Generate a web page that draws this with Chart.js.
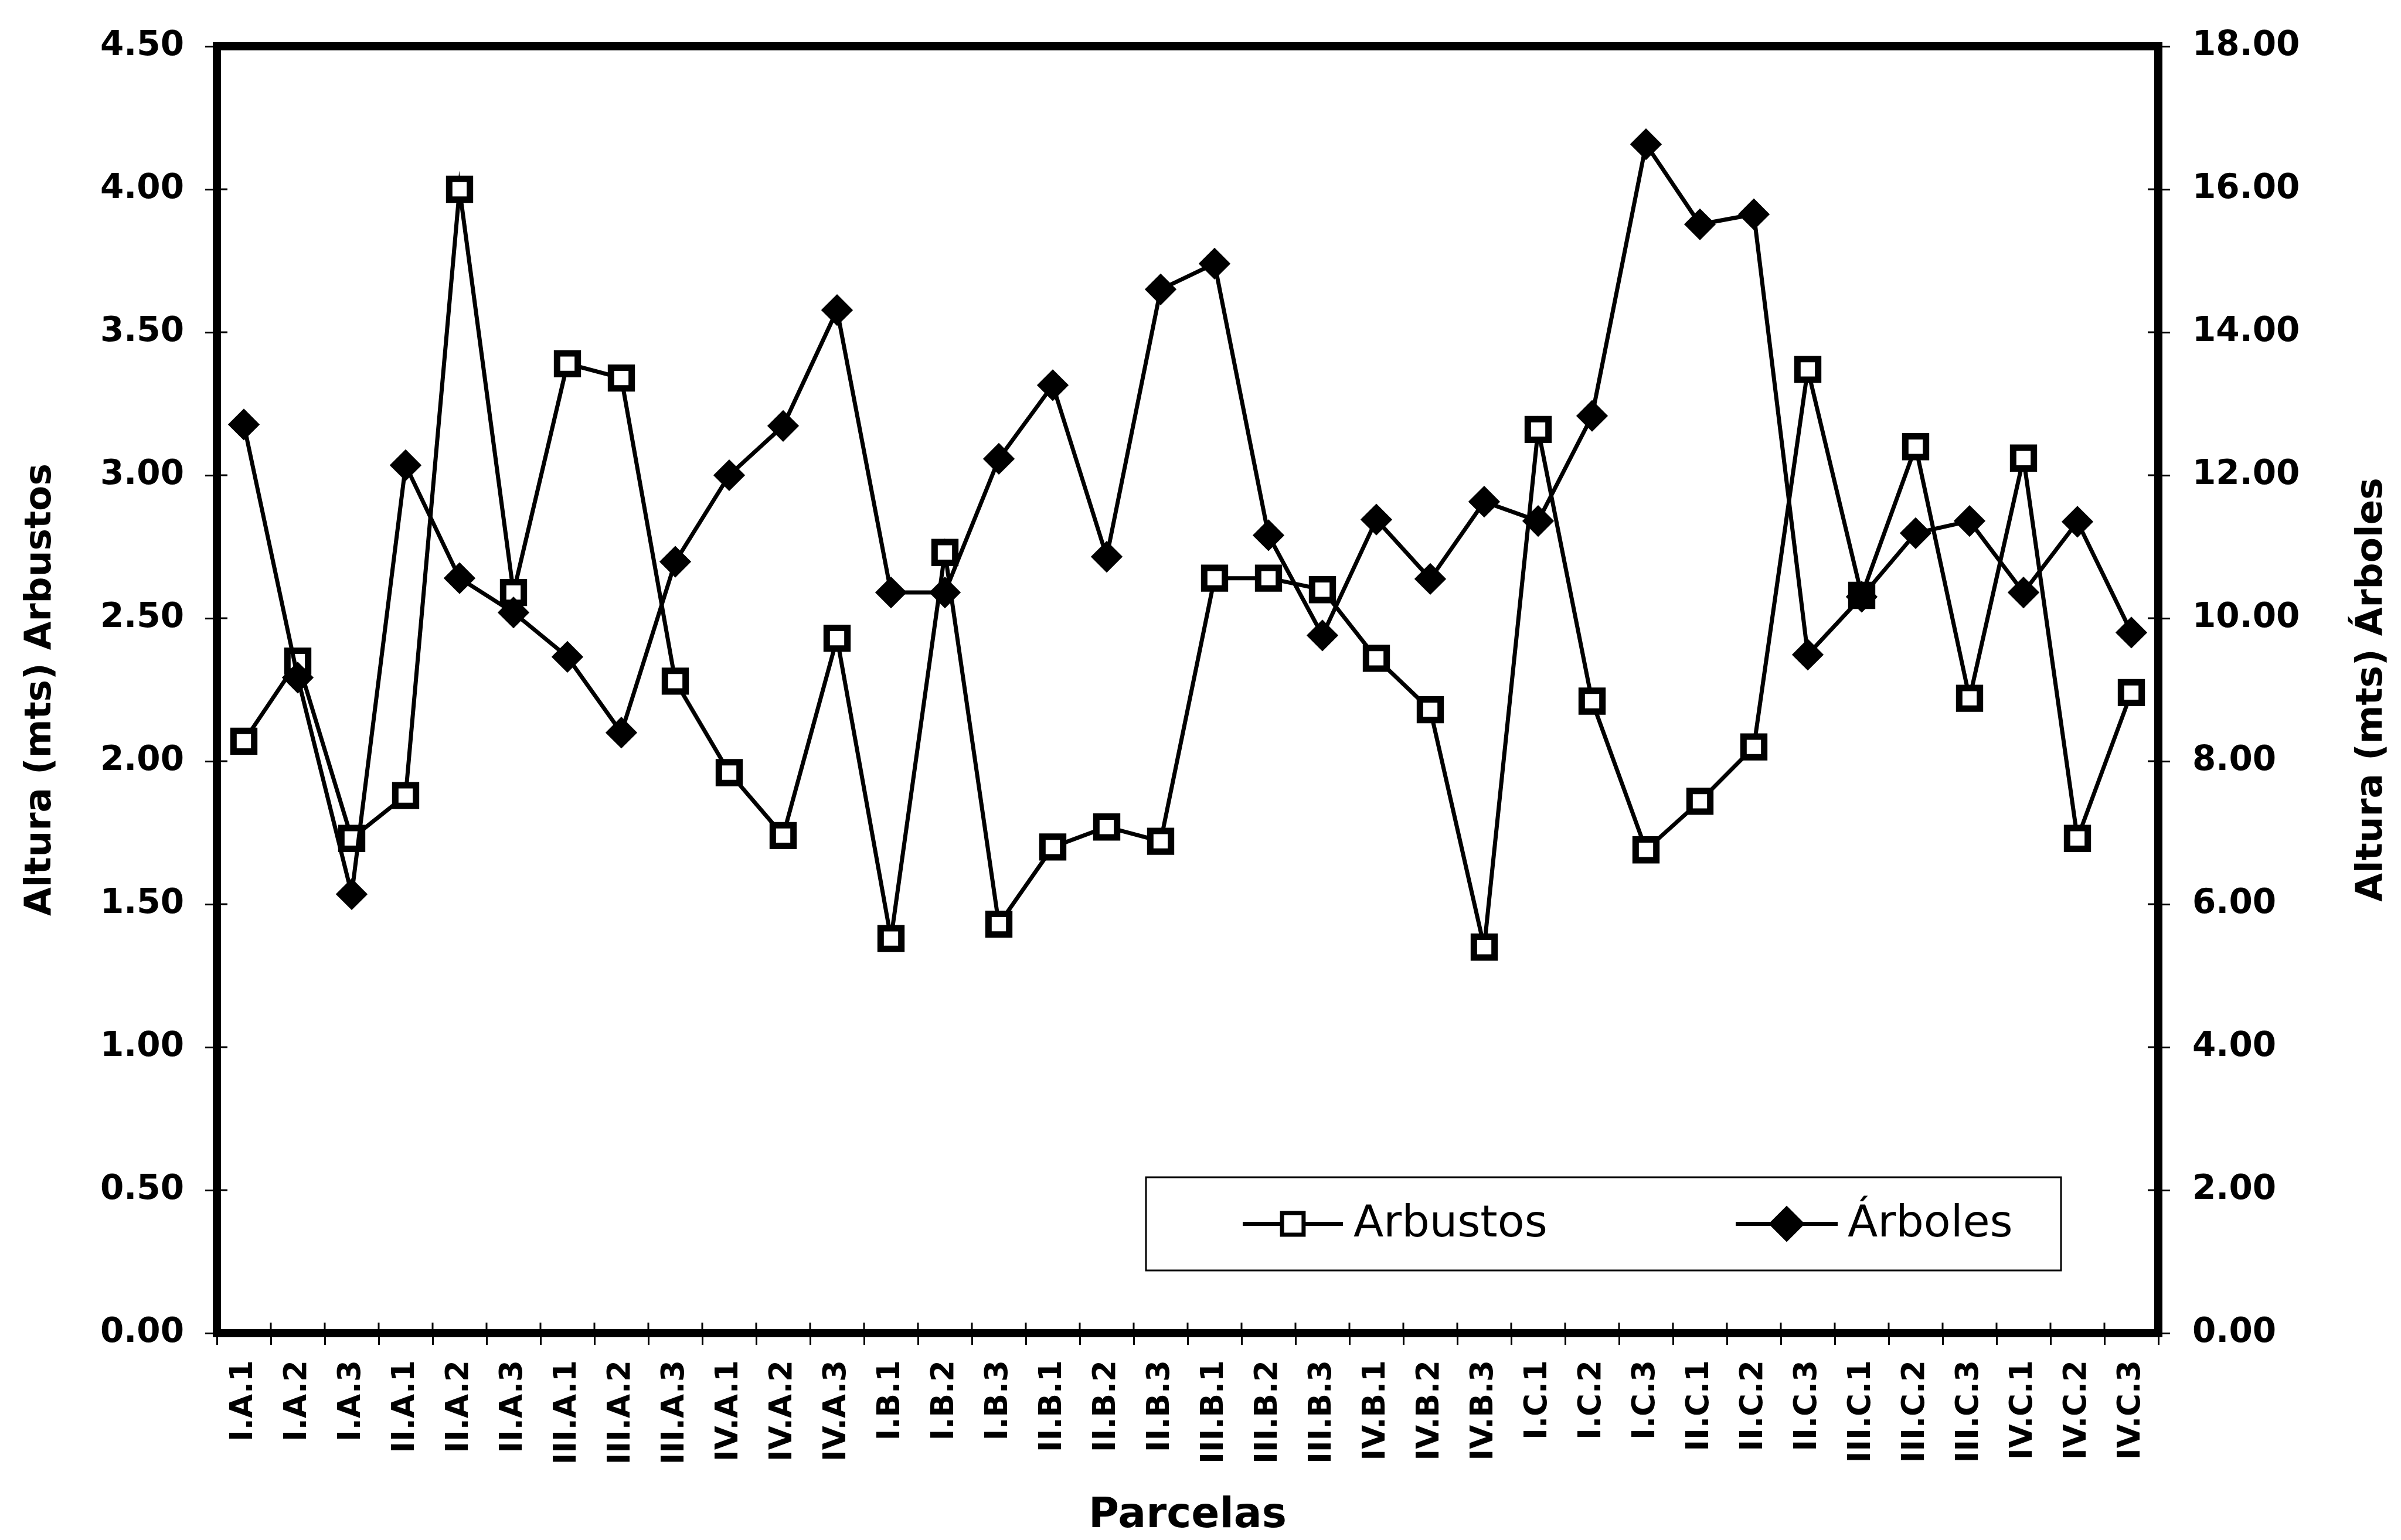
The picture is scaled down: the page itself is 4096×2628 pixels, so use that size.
<!DOCTYPE html>
<html lang="es">
<head>
<meta charset="utf-8">
<title>Altura de arbustos y árboles por parcela</title>
<script src="https://cdn.jsdelivr.net/npm/chart.js@4.4.1/dist/chart.umd.min.js"></script>
<style>
html,body{margin:0;padding:0;background:#fff;}
#wrap{width:4096px;height:2628px;}
</style>
</head>
<body>
<div id="wrap"><canvas id="ch" width="4096" height="2628"></canvas></div>
<script>
/* ── datos ── */
const parcelas=[
    'I.A.1','I.A.2','I.A.3','II.A.1','II.A.2','II.A.3','III.A.1','III.A.2','III.A.3','IV.A.1','IV.A.2','IV.A.3',
    'I.B.1','I.B.2','I.B.3','II.B.1','II.B.2','II.B.3','III.B.1','III.B.2','III.B.3','IV.B.1','IV.B.2','IV.B.3',
    'I.C.1','I.C.2','I.C.3','II.C.1','II.C.2','II.C.3','III.C.1','III.C.2','III.C.3','IV.C.1','IV.C.2','IV.C.3'
];
// altura media (m), eje izquierdo
const arbustos=[
    2.07,2.35,1.73, 1.88,4.00,2.59, 3.39,3.34,2.28, 1.96,1.74,2.43,
    1.38,2.73,1.43, 1.70,1.77,1.72, 2.64,2.64,2.60, 2.36,2.18,1.35,
    3.16,2.21,1.69, 1.86,2.05,3.37, 2.58,3.10,2.22, 3.06,1.73,2.24
];
// altura media (m), eje derecho
const arboles=[
    12.71,9.17,6.14, 12.14,10.56,10.08, 9.46,8.40,10.79, 12.00,12.69,14.31,
    10.36,10.36,12.23, 13.26,10.86,14.60, 14.96,11.16,9.76, 11.38,10.55,11.63,
    11.36,12.83,16.63, 15.51,15.65,9.49, 10.30,11.19,11.36, 10.36,11.35,9.80
];
const leftAxis={min:0,max:4.5,step:0.5};
const rightAxis={min:0,max:18,step:2};
const titles={left:'Altura (mts) Arbustos',right:'Altura (mts) Árboles',bottom:'Parcelas'};

const FONT='"DejaVu Sans", "Liberation Sans", sans-serif';
const W=4096, H=2628;
const AREA={left:370,right:3682,top:79,bottom:2275};

/* marco grueso + marcas de eje hacia adentro */
const framePlugin={
    id:'frame',
    afterDatasetsDraw(chart){
        const {ctx,chartArea:a,scales}=chart;
        ctx.save();
        ctx.strokeStyle='#000';
        ctx.lineWidth=3;
        ctx.beginPath();
        scales.y.ticks.forEach((t,i)=>{const y=scales.y.getPixelForTick(i);ctx.moveTo(a.left,y);ctx.lineTo(a.left+18,y);});
        scales.y1.ticks.forEach((t,i)=>{const y=scales.y1.getPixelForTick(i);ctx.moveTo(a.right,y);ctx.lineTo(a.right-18,y);});
        for (let i=0;i<=parcelas.length;i++){
            const x=scales.x.getPixelForValue(i-0.5);
            ctx.moveTo(x,a.bottom);ctx.lineTo(x,a.bottom-18);
        }
        ctx.stroke();
        ctx.lineWidth=14;
        ctx.strokeRect(a.left,a.top,a.right-a.left,a.bottom-a.top);
        ctx.restore();
    }
};

/* títulos de ejes (el derecho también se lee de abajo hacia arriba) */
const titlePlugin={
    id:'axisTitles',
    afterDraw(chart){
        const {ctx,chartArea:a}=chart;
        const cy=(a.top+a.bottom)/2, cx=(a.left+a.right)/2;
        ctx.save();
        ctx.fillStyle='#000';
        ctx.textAlign='center';
        ctx.textBaseline='middle';
        ctx.font='bold 63px '+FONT;
        [[70,titles.left],[4047,titles.right]].forEach(([x,txt])=>{
            ctx.save();
            ctx.translate(x,cy);
            ctx.rotate(-Math.PI/2);
            ctx.fillText(txt,0,0);
            ctx.restore();
        });
        ctx.font='bold 71px '+FONT;
        ctx.fillText(titles.bottom,cx,2588);
        ctx.restore();
    }
};

/* leyenda en recuadro, abajo a la derecha */
const legendPlugin={
    id:'boxLegend',
    afterDatasetsDraw(chart){
        const {ctx}=chart;
        const box={x:1955,y:2009,w:1561,h:159};
        const cy=box.y+box.h/2;
        ctx.save();
        ctx.fillStyle='#fff';
        ctx.fillRect(box.x,box.y,box.w,box.h);
        ctx.strokeStyle='#000';
        ctx.lineWidth=3;
        ctx.strokeRect(box.x,box.y,box.w,box.h);

        const items=[
            {x0:2120,x1:2291,tx:2309,text:chart.data.datasets[0].label,style:'rect',r:26,bw:11,fill:'#fff'},
            {x0:2961,x1:3135,tx:3152,text:chart.data.datasets[1].label,style:'rectRot',r:26,bw:3,fill:'#000'}
        ];
        items.forEach(it=>{
            ctx.lineWidth=7;
            ctx.strokeStyle='#000';
            ctx.beginPath();ctx.moveTo(it.x0,cy);ctx.lineTo(it.x1,cy);ctx.stroke();
            ctx.fillStyle=it.fill;
            Chart.helpers.drawPoint(ctx,{pointStyle:it.style,radius:it.r,borderWidth:it.bw,rotation:0},(it.x0+it.x1)/2,cy);
            ctx.fillStyle='#000';
            ctx.font='75px '+FONT;
            ctx.textAlign='left';
            ctx.textBaseline='middle';
            ctx.fillText(it.text,it.tx,cy+2);
        });
        ctx.restore();
    }
};

const tickGrid={drawOnChartArea:false,drawTicks:true,tickLength:20,tickWidth:3,tickColor:'#000'};

new Chart(document.getElementById('ch').getContext('2d'),{
    type:'line',
    data:{
        labels:parcelas,
        datasets:[
            {label:'Arbustos',data:arbustos,yAxisID:'y',order:1,
             borderColor:'#000',borderWidth:7,tension:0,
             pointStyle:'rect',pointRadius:25,pointHoverRadius:25,pointBorderWidth:11,
             pointBackgroundColor:'#fff',pointBorderColor:'#000'},
            {label:'Árboles',data:arboles,yAxisID:'y1',order:0,
             borderColor:'#000',borderWidth:7,tension:0,
             pointStyle:'rectRot',pointRadius:25,pointHoverRadius:25,pointBorderWidth:3,
             pointBackgroundColor:'#000',pointBorderColor:'#000'}
        ]
    },
    options:{
        responsive:false,
        devicePixelRatio:1,
        animation:false,
        events:[],
        layout:{padding:{top:AREA.top,left:0,right:0,bottom:0}},
        plugins:{legend:{display:false},tooltip:{enabled:false},title:{display:false}},
        scales:{
            x:{
                type:'category',
                offset:true,
                grid:{...tickGrid,offset:true},
                border:{display:false},
                ticks:{autoSkip:false,maxRotation:90,minRotation:90,padding:26,color:'#000',
                       font:{family:FONT,size:53,weight:'bold'}},
                afterFit(s){s.height=H-AREA.bottom;}
            },
            y:{
                position:'left',min:leftAxis.min,max:leftAxis.max,
                grid:tickGrid,
                border:{display:false},
                ticks:{stepSize:leftAxis.step,padding:36,color:'#000',
                       font:{family:FONT,size:58,weight:'bold'},callback:v=>Number(v).toFixed(2)},
                afterFit(s){s.width=AREA.left;}
            },
            y1:{
                position:'right',min:rightAxis.min,max:rightAxis.max,
                grid:tickGrid,
                border:{display:false},
                ticks:{stepSize:rightAxis.step,padding:38,color:'#000',
                       font:{family:FONT,size:58,weight:'bold'},callback:v=>Number(v).toFixed(2)},
                afterFit(s){s.width=W-AREA.right;}
            }
        }
    },
    plugins:[framePlugin,legendPlugin,titlePlugin]
});
</script>
</body>
</html>
